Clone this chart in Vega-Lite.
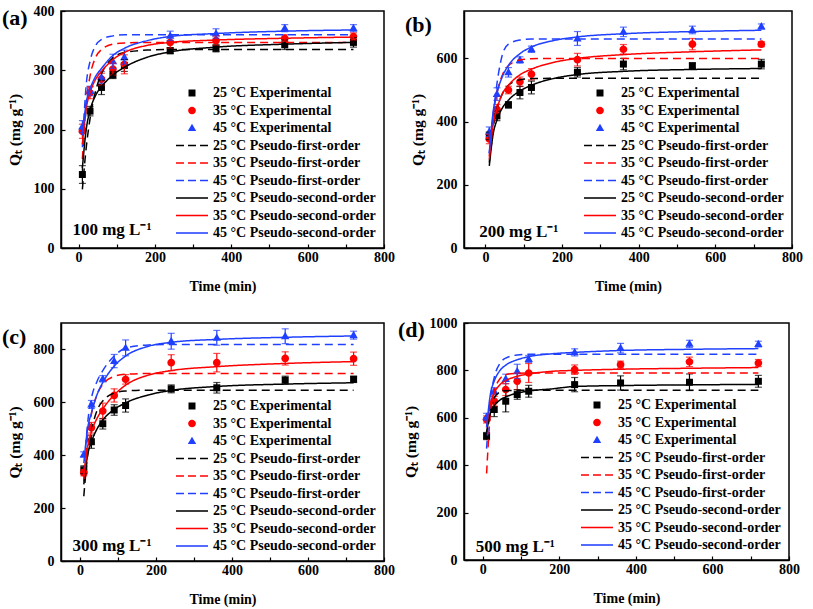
{
"$schema":"https://vega.github.io/schema/vega-lite/v6.json",
"background":"white",
"padding":{"left":1,"top":3,"right":3,"bottom":3},
"columns":2,
"align":"each",
"spacing":{"row":21,"column":1},
"resolve":{"scale":{"x":"independent","y":"independent","color":"independent","shape":"independent","strokeDash":"independent"},"legend":{"color":"independent","shape":"independent","strokeDash":"independent"}},
"datasets":{
"pts":[
{"p":"a","s":"25 °C Experimental","t":10,"q":124,"e":15},{"p":"a","s":"25 °C Experimental","t":30,"q":231,"e":8},{"p":"a","s":"25 °C Experimental","t":60,"q":271,"e":12},{"p":"a","s":"25 °C Experimental","t":90,"q":292,"e":6},{"p":"a","s":"25 °C Experimental","t":120,"q":308,"e":10},{"p":"a","s":"25 °C Experimental","t":240,"q":333,"e":5},{"p":"a","s":"25 °C Experimental","t":360,"q":337,"e":6},{"p":"a","s":"25 °C Experimental","t":540,"q":343,"e":8},{"p":"a","s":"25 °C Experimental","t":720,"q":347,"e":8},
{"p":"a","s":"35 °C Experimental","t":10,"q":197,"e":12},{"p":"a","s":"35 °C Experimental","t":30,"q":262,"e":10},{"p":"a","s":"35 °C Experimental","t":60,"q":285,"e":10},{"p":"a","s":"35 °C Experimental","t":90,"q":302,"e":10},{"p":"a","s":"35 °C Experimental","t":120,"q":310,"e":16},{"p":"a","s":"35 °C Experimental","t":240,"q":347,"e":10},{"p":"a","s":"35 °C Experimental","t":360,"q":350,"e":8},{"p":"a","s":"35 °C Experimental","t":540,"q":354,"e":6},{"p":"a","s":"35 °C Experimental","t":720,"q":357,"e":6},
{"p":"a","s":"45 °C Experimental","t":10,"q":205,"e":10},{"p":"a","s":"45 °C Experimental","t":30,"q":265,"e":8},{"p":"a","s":"45 °C Experimental","t":60,"q":288,"e":10},{"p":"a","s":"45 °C Experimental","t":90,"q":315,"e":12},{"p":"a","s":"45 °C Experimental","t":120,"q":322,"e":12},{"p":"a","s":"45 °C Experimental","t":240,"q":358,"e":8},{"p":"a","s":"45 °C Experimental","t":360,"q":362,"e":8},{"p":"a","s":"45 °C Experimental","t":540,"q":371,"e":6},{"p":"a","s":"45 °C Experimental","t":720,"q":371,"e":6},
{"p":"b","s":"25 °C Experimental","t":10,"q":355,"e":12},{"p":"b","s":"25 °C Experimental","t":30,"q":418,"e":15},{"p":"b","s":"25 °C Experimental","t":60,"q":453,"e":10},{"p":"b","s":"25 °C Experimental","t":90,"q":492,"e":20},{"p":"b","s":"25 °C Experimental","t":120,"q":508,"e":20},{"p":"b","s":"25 °C Experimental","t":240,"q":556,"e":15},{"p":"b","s":"25 °C Experimental","t":360,"q":582,"e":18},{"p":"b","s":"25 °C Experimental","t":540,"q":577,"e":8},{"p":"b","s":"25 °C Experimental","t":720,"q":582,"e":15},
{"p":"b","s":"35 °C Experimental","t":10,"q":345,"e":15},{"p":"b","s":"35 °C Experimental","t":30,"q":439,"e":15},{"p":"b","s":"35 °C Experimental","t":60,"q":500,"e":12},{"p":"b","s":"35 °C Experimental","t":90,"q":526,"e":15},{"p":"b","s":"35 °C Experimental","t":120,"q":550,"e":18},{"p":"b","s":"35 °C Experimental","t":240,"q":596,"e":20},{"p":"b","s":"35 °C Experimental","t":360,"q":629,"e":15},{"p":"b","s":"35 °C Experimental","t":540,"q":645,"e":18},{"p":"b","s":"35 °C Experimental","t":720,"q":645,"e":8},
{"p":"b","s":"45 °C Experimental","t":10,"q":368,"e":15},{"p":"b","s":"45 °C Experimental","t":30,"q":487,"e":20},{"p":"b","s":"45 °C Experimental","t":60,"q":556,"e":15},{"p":"b","s":"45 °C Experimental","t":90,"q":595,"e":10},{"p":"b","s":"45 °C Experimental","t":120,"q":629,"e":10},{"p":"b","s":"45 °C Experimental","t":240,"q":663,"e":22},{"p":"b","s":"45 °C Experimental","t":360,"q":684,"e":15},{"p":"b","s":"45 °C Experimental","t":540,"q":690,"e":12},{"p":"b","s":"45 °C Experimental","t":720,"q":701,"e":8},
{"p":"c","s":"25 °C Experimental","t":10,"q":345,"e":15},{"p":"c","s":"25 °C Experimental","t":30,"q":451,"e":25},{"p":"c","s":"25 °C Experimental","t":60,"q":519,"e":20},{"p":"c","s":"25 °C Experimental","t":90,"q":571,"e":20},{"p":"c","s":"25 °C Experimental","t":120,"q":588,"e":25},{"p":"c","s":"25 °C Experimental","t":240,"q":651,"e":15},{"p":"c","s":"25 °C Experimental","t":360,"q":655,"e":20},{"p":"c","s":"25 °C Experimental","t":540,"q":684,"e":15},{"p":"c","s":"25 °C Experimental","t":720,"q":687,"e":12},
{"p":"c","s":"35 °C Experimental","t":10,"q":334,"e":12},{"p":"c","s":"35 °C Experimental","t":30,"q":504,"e":20},{"p":"c","s":"35 °C Experimental","t":60,"q":567,"e":30},{"p":"c","s":"35 °C Experimental","t":90,"q":626,"e":25},{"p":"c","s":"35 °C Experimental","t":120,"q":687,"e":18},{"p":"c","s":"35 °C Experimental","t":240,"q":750,"e":30},{"p":"c","s":"35 °C Experimental","t":360,"q":750,"e":35},{"p":"c","s":"35 °C Experimental","t":540,"q":766,"e":25},{"p":"c","s":"35 °C Experimental","t":720,"q":765,"e":25},
{"p":"c","s":"45 °C Experimental","t":10,"q":403,"e":10},{"p":"c","s":"45 °C Experimental","t":30,"q":592,"e":15},{"p":"c","s":"45 °C Experimental","t":60,"q":689,"e":12},{"p":"c","s":"45 °C Experimental","t":90,"q":756,"e":25},{"p":"c","s":"45 °C Experimental","t":120,"q":806,"e":30},{"p":"c","s":"45 °C Experimental","t":240,"q":831,"e":30},{"p":"c","s":"45 °C Experimental","t":360,"q":844,"e":28},{"p":"c","s":"45 °C Experimental","t":540,"q":850,"e":28},{"p":"c","s":"45 °C Experimental","t":720,"q":854,"e":15},
{"p":"d","s":"25 °C Experimental","t":10,"q":523,"e":15},{"p":"d","s":"25 °C Experimental","t":30,"q":635,"e":30},{"p":"d","s":"25 °C Experimental","t":60,"q":670,"e":45},{"p":"d","s":"25 °C Experimental","t":90,"q":698,"e":20},{"p":"d","s":"25 °C Experimental","t":120,"q":712,"e":25},{"p":"d","s":"25 °C Experimental","t":240,"q":740,"e":30},{"p":"d","s":"25 °C Experimental","t":360,"q":747,"e":30},{"p":"d","s":"25 °C Experimental","t":540,"q":750,"e":35},{"p":"d","s":"25 °C Experimental","t":720,"q":754,"e":25},
{"p":"d","s":"35 °C Experimental","t":10,"q":593,"e":15},{"p":"d","s":"35 °C Experimental","t":30,"q":670,"e":20},{"p":"d","s":"35 °C Experimental","t":60,"q":719,"e":25},{"p":"d","s":"35 °C Experimental","t":90,"q":754,"e":35},{"p":"d","s":"35 °C Experimental","t":120,"q":789,"e":40},{"p":"d","s":"35 °C Experimental","t":240,"q":803,"e":20},{"p":"d","s":"35 °C Experimental","t":360,"q":824,"e":15},{"p":"d","s":"35 °C Experimental","t":540,"q":836,"e":20},{"p":"d","s":"35 °C Experimental","t":720,"q":831,"e":15},
{"p":"d","s":"45 °C Experimental","t":10,"q":604,"e":15},{"p":"d","s":"45 °C Experimental","t":30,"q":712,"e":15},{"p":"d","s":"45 °C Experimental","t":60,"q":764,"e":20},{"p":"d","s":"45 °C Experimental","t":90,"q":796,"e":30},{"p":"d","s":"45 °C Experimental","t":120,"q":848,"e":15},{"p":"d","s":"45 °C Experimental","t":240,"q":876,"e":15},{"p":"d","s":"45 °C Experimental","t":360,"q":894,"e":20},{"p":"d","s":"45 °C Experimental","t":540,"q":912,"e":15},{"p":"d","s":"45 °C Experimental","t":720,"q":911,"e":12}
],
"fit":[
{"p":"a","s":"25 °C Pseudo-first-order","t":10,"q":99},{"p":"a","s":"25 °C Pseudo-first-order","t":20,"q":169},{"p":"a","s":"25 °C Pseudo-first-order","t":30,"q":218},{"p":"a","s":"25 °C Pseudo-first-order","t":45,"q":266},{"p":"a","s":"25 °C Pseudo-first-order","t":60,"q":294},{"p":"a","s":"25 °C Pseudo-first-order","t":90,"q":321},{"p":"a","s":"25 °C Pseudo-first-order","t":120,"q":330},{"p":"a","s":"25 °C Pseudo-first-order","t":180,"q":334},{"p":"a","s":"25 °C Pseudo-first-order","t":240,"q":335},{"p":"a","s":"25 °C Pseudo-first-order","t":360,"q":335},{"p":"a","s":"25 °C Pseudo-first-order","t":540,"q":335},{"p":"a","s":"25 °C Pseudo-first-order","t":720,"q":335},
{"p":"a","s":"35 °C Pseudo-first-order","t":10,"q":150},{"p":"a","s":"35 °C Pseudo-first-order","t":20,"q":245},{"p":"a","s":"35 °C Pseudo-first-order","t":30,"q":290},{"p":"a","s":"35 °C Pseudo-first-order","t":45,"q":322},{"p":"a","s":"35 °C Pseudo-first-order","t":60,"q":335},{"p":"a","s":"35 °C Pseudo-first-order","t":90,"q":344},{"p":"a","s":"35 °C Pseudo-first-order","t":120,"q":346},{"p":"a","s":"35 °C Pseudo-first-order","t":180,"q":347},{"p":"a","s":"35 °C Pseudo-first-order","t":240,"q":347},{"p":"a","s":"35 °C Pseudo-first-order","t":360,"q":347},{"p":"a","s":"35 °C Pseudo-first-order","t":540,"q":347},{"p":"a","s":"35 °C Pseudo-first-order","t":720,"q":347},
{"p":"a","s":"45 °C Pseudo-first-order","t":10,"q":170},{"p":"a","s":"45 °C Pseudo-first-order","t":20,"q":275},{"p":"a","s":"45 °C Pseudo-first-order","t":30,"q":315},{"p":"a","s":"45 °C Pseudo-first-order","t":45,"q":342},{"p":"a","s":"45 °C Pseudo-first-order","t":60,"q":352},{"p":"a","s":"45 °C Pseudo-first-order","t":90,"q":358},{"p":"a","s":"45 °C Pseudo-first-order","t":120,"q":360},{"p":"a","s":"45 °C Pseudo-first-order","t":180,"q":360},{"p":"a","s":"45 °C Pseudo-first-order","t":240,"q":360},{"p":"a","s":"45 °C Pseudo-first-order","t":360,"q":360},{"p":"a","s":"45 °C Pseudo-first-order","t":540,"q":360},{"p":"a","s":"45 °C Pseudo-first-order","t":720,"q":360},
{"p":"a","s":"25 °C Pseudo-second-order","t":10,"q":135},{"p":"a","s":"25 °C Pseudo-second-order","t":20,"q":200},{"p":"a","s":"25 °C Pseudo-second-order","t":30,"q":232},{"p":"a","s":"25 °C Pseudo-second-order","t":45,"q":258},{"p":"a","s":"25 °C Pseudo-second-order","t":60,"q":272},{"p":"a","s":"25 °C Pseudo-second-order","t":90,"q":292},{"p":"a","s":"25 °C Pseudo-second-order","t":120,"q":305},{"p":"a","s":"25 °C Pseudo-second-order","t":180,"q":322},{"p":"a","s":"25 °C Pseudo-second-order","t":240,"q":331},{"p":"a","s":"25 °C Pseudo-second-order","t":360,"q":339},{"p":"a","s":"25 °C Pseudo-second-order","t":540,"q":344},{"p":"a","s":"25 °C Pseudo-second-order","t":720,"q":347},
{"p":"a","s":"35 °C Pseudo-second-order","t":10,"q":175},{"p":"a","s":"35 °C Pseudo-second-order","t":20,"q":235},{"p":"a","s":"35 °C Pseudo-second-order","t":30,"q":262},{"p":"a","s":"35 °C Pseudo-second-order","t":45,"q":285},{"p":"a","s":"35 °C Pseudo-second-order","t":60,"q":298},{"p":"a","s":"35 °C Pseudo-second-order","t":90,"q":318},{"p":"a","s":"35 °C Pseudo-second-order","t":120,"q":330},{"p":"a","s":"35 °C Pseudo-second-order","t":180,"q":342},{"p":"a","s":"35 °C Pseudo-second-order","t":240,"q":347},{"p":"a","s":"35 °C Pseudo-second-order","t":360,"q":351},{"p":"a","s":"35 °C Pseudo-second-order","t":540,"q":354},{"p":"a","s":"35 °C Pseudo-second-order","t":720,"q":356},
{"p":"a","s":"45 °C Pseudo-second-order","t":10,"q":190},{"p":"a","s":"45 °C Pseudo-second-order","t":20,"q":245},{"p":"a","s":"45 °C Pseudo-second-order","t":30,"q":268},{"p":"a","s":"45 °C Pseudo-second-order","t":45,"q":290},{"p":"a","s":"45 °C Pseudo-second-order","t":60,"q":303},{"p":"a","s":"45 °C Pseudo-second-order","t":90,"q":325},{"p":"a","s":"45 °C Pseudo-second-order","t":120,"q":337},{"p":"a","s":"45 °C Pseudo-second-order","t":180,"q":350},{"p":"a","s":"45 °C Pseudo-second-order","t":240,"q":357},{"p":"a","s":"45 °C Pseudo-second-order","t":360,"q":362},{"p":"a","s":"45 °C Pseudo-second-order","t":540,"q":366},{"p":"a","s":"45 °C Pseudo-second-order","t":720,"q":368},
{"p":"b","s":"25 °C Pseudo-first-order","t":10,"q":270},{"p":"b","s":"25 °C Pseudo-first-order","t":20,"q":380},{"p":"b","s":"25 °C Pseudo-first-order","t":30,"q":440},{"p":"b","s":"25 °C Pseudo-first-order","t":45,"q":490},{"p":"b","s":"25 °C Pseudo-first-order","t":60,"q":515},{"p":"b","s":"25 °C Pseudo-first-order","t":90,"q":532},{"p":"b","s":"25 °C Pseudo-first-order","t":120,"q":536},{"p":"b","s":"25 °C Pseudo-first-order","t":180,"q":537},{"p":"b","s":"25 °C Pseudo-first-order","t":240,"q":537},{"p":"b","s":"25 °C Pseudo-first-order","t":360,"q":537},{"p":"b","s":"25 °C Pseudo-first-order","t":540,"q":537},{"p":"b","s":"25 °C Pseudo-first-order","t":720,"q":537},
{"p":"b","s":"35 °C Pseudo-first-order","t":10,"q":290},{"p":"b","s":"35 °C Pseudo-first-order","t":20,"q":420},{"p":"b","s":"35 °C Pseudo-first-order","t":30,"q":490},{"p":"b","s":"35 °C Pseudo-first-order","t":45,"q":550},{"p":"b","s":"35 °C Pseudo-first-order","t":60,"q":577},{"p":"b","s":"35 °C Pseudo-first-order","t":90,"q":595},{"p":"b","s":"35 °C Pseudo-first-order","t":120,"q":599},{"p":"b","s":"35 °C Pseudo-first-order","t":180,"q":600},{"p":"b","s":"35 °C Pseudo-first-order","t":240,"q":600},{"p":"b","s":"35 °C Pseudo-first-order","t":360,"q":600},{"p":"b","s":"35 °C Pseudo-first-order","t":540,"q":600},{"p":"b","s":"35 °C Pseudo-first-order","t":720,"q":600},
{"p":"b","s":"45 °C Pseudo-first-order","t":10,"q":300},{"p":"b","s":"45 °C Pseudo-first-order","t":20,"q":420},{"p":"b","s":"45 °C Pseudo-first-order","t":30,"q":520},{"p":"b","s":"45 °C Pseudo-first-order","t":45,"q":615},{"p":"b","s":"45 °C Pseudo-first-order","t":60,"q":645},{"p":"b","s":"45 °C Pseudo-first-order","t":90,"q":658},{"p":"b","s":"45 °C Pseudo-first-order","t":120,"q":661},{"p":"b","s":"45 °C Pseudo-first-order","t":180,"q":661},{"p":"b","s":"45 °C Pseudo-first-order","t":240,"q":661},{"p":"b","s":"45 °C Pseudo-first-order","t":360,"q":661},{"p":"b","s":"45 °C Pseudo-first-order","t":540,"q":661},{"p":"b","s":"45 °C Pseudo-first-order","t":720,"q":661},
{"p":"b","s":"25 °C Pseudo-second-order","t":10,"q":260},{"p":"b","s":"25 °C Pseudo-second-order","t":20,"q":360},{"p":"b","s":"25 °C Pseudo-second-order","t":30,"q":405},{"p":"b","s":"25 °C Pseudo-second-order","t":45,"q":445},{"p":"b","s":"25 °C Pseudo-second-order","t":60,"q":468},{"p":"b","s":"25 °C Pseudo-second-order","t":90,"q":497},{"p":"b","s":"25 °C Pseudo-second-order","t":120,"q":515},{"p":"b","s":"25 °C Pseudo-second-order","t":180,"q":537},{"p":"b","s":"25 °C Pseudo-second-order","t":240,"q":549},{"p":"b","s":"25 °C Pseudo-second-order","t":360,"q":559},{"p":"b","s":"25 °C Pseudo-second-order","t":540,"q":565},{"p":"b","s":"25 °C Pseudo-second-order","t":720,"q":568},
{"p":"b","s":"35 °C Pseudo-second-order","t":10,"q":280},{"p":"b","s":"35 °C Pseudo-second-order","t":20,"q":390},{"p":"b","s":"35 °C Pseudo-second-order","t":30,"q":440},{"p":"b","s":"35 °C Pseudo-second-order","t":45,"q":490},{"p":"b","s":"35 °C Pseudo-second-order","t":60,"q":515},{"p":"b","s":"35 °C Pseudo-second-order","t":90,"q":548},{"p":"b","s":"35 °C Pseudo-second-order","t":120,"q":566},{"p":"b","s":"35 °C Pseudo-second-order","t":180,"q":588},{"p":"b","s":"35 °C Pseudo-second-order","t":240,"q":600},{"p":"b","s":"35 °C Pseudo-second-order","t":360,"q":612},{"p":"b","s":"35 °C Pseudo-second-order","t":540,"q":621},{"p":"b","s":"35 °C Pseudo-second-order","t":720,"q":627},
{"p":"b","s":"45 °C Pseudo-second-order","t":10,"q":300},{"p":"b","s":"45 °C Pseudo-second-order","t":20,"q":430},{"p":"b","s":"45 °C Pseudo-second-order","t":30,"q":490},{"p":"b","s":"45 °C Pseudo-second-order","t":45,"q":545},{"p":"b","s":"45 °C Pseudo-second-order","t":60,"q":578},{"p":"b","s":"45 °C Pseudo-second-order","t":90,"q":615},{"p":"b","s":"45 °C Pseudo-second-order","t":120,"q":636},{"p":"b","s":"45 °C Pseudo-second-order","t":180,"q":657},{"p":"b","s":"45 °C Pseudo-second-order","t":240,"q":668},{"p":"b","s":"45 °C Pseudo-second-order","t":360,"q":678},{"p":"b","s":"45 °C Pseudo-second-order","t":540,"q":685},{"p":"b","s":"45 °C Pseudo-second-order","t":720,"q":689},
{"p":"c","s":"25 °C Pseudo-first-order","t":10,"q":245},{"p":"c","s":"25 °C Pseudo-first-order","t":20,"q":400},{"p":"c","s":"25 °C Pseudo-first-order","t":30,"q":490},{"p":"c","s":"25 °C Pseudo-first-order","t":45,"q":570},{"p":"c","s":"25 °C Pseudo-first-order","t":60,"q":605},{"p":"c","s":"25 °C Pseudo-first-order","t":90,"q":635},{"p":"c","s":"25 °C Pseudo-first-order","t":120,"q":643},{"p":"c","s":"25 °C Pseudo-first-order","t":180,"q":646},{"p":"c","s":"25 °C Pseudo-first-order","t":240,"q":646},{"p":"c","s":"25 °C Pseudo-first-order","t":360,"q":646},{"p":"c","s":"25 °C Pseudo-first-order","t":540,"q":646},{"p":"c","s":"25 °C Pseudo-first-order","t":720,"q":646},
{"p":"c","s":"35 °C Pseudo-first-order","t":10,"q":300},{"p":"c","s":"35 °C Pseudo-first-order","t":20,"q":470},{"p":"c","s":"35 °C Pseudo-first-order","t":30,"q":555},{"p":"c","s":"35 °C Pseudo-first-order","t":45,"q":630},{"p":"c","s":"35 °C Pseudo-first-order","t":60,"q":668},{"p":"c","s":"35 °C Pseudo-first-order","t":90,"q":698},{"p":"c","s":"35 °C Pseudo-first-order","t":120,"q":706},{"p":"c","s":"35 °C Pseudo-first-order","t":180,"q":709},{"p":"c","s":"35 °C Pseudo-first-order","t":240,"q":709},{"p":"c","s":"35 °C Pseudo-first-order","t":360,"q":709},{"p":"c","s":"35 °C Pseudo-first-order","t":540,"q":709},{"p":"c","s":"35 °C Pseudo-first-order","t":720,"q":709},
{"p":"c","s":"45 °C Pseudo-first-order","t":10,"q":330},{"p":"c","s":"45 °C Pseudo-first-order","t":20,"q":520},{"p":"c","s":"45 °C Pseudo-first-order","t":30,"q":615},{"p":"c","s":"45 °C Pseudo-first-order","t":45,"q":680},{"p":"c","s":"45 °C Pseudo-first-order","t":60,"q":720},{"p":"c","s":"45 °C Pseudo-first-order","t":90,"q":775},{"p":"c","s":"45 °C Pseudo-first-order","t":120,"q":805},{"p":"c","s":"45 °C Pseudo-first-order","t":180,"q":817},{"p":"c","s":"45 °C Pseudo-first-order","t":240,"q":819},{"p":"c","s":"45 °C Pseudo-first-order","t":360,"q":819},{"p":"c","s":"45 °C Pseudo-first-order","t":540,"q":819},{"p":"c","s":"45 °C Pseudo-first-order","t":720,"q":819},
{"p":"c","s":"25 °C Pseudo-second-order","t":10,"q":290},{"p":"c","s":"25 °C Pseudo-second-order","t":20,"q":400},{"p":"c","s":"25 °C Pseudo-second-order","t":30,"q":450},{"p":"c","s":"25 °C Pseudo-second-order","t":45,"q":500},{"p":"c","s":"25 °C Pseudo-second-order","t":60,"q":533},{"p":"c","s":"25 °C Pseudo-second-order","t":90,"q":573},{"p":"c","s":"25 °C Pseudo-second-order","t":120,"q":598},{"p":"c","s":"25 °C Pseudo-second-order","t":180,"q":628},{"p":"c","s":"25 °C Pseudo-second-order","t":240,"q":645},{"p":"c","s":"25 °C Pseudo-second-order","t":360,"q":660},{"p":"c","s":"25 °C Pseudo-second-order","t":540,"q":669},{"p":"c","s":"25 °C Pseudo-second-order","t":720,"q":674},
{"p":"c","s":"35 °C Pseudo-second-order","t":10,"q":310},{"p":"c","s":"35 °C Pseudo-second-order","t":20,"q":430},{"p":"c","s":"35 °C Pseudo-second-order","t":30,"q":488},{"p":"c","s":"35 °C Pseudo-second-order","t":45,"q":540},{"p":"c","s":"35 °C Pseudo-second-order","t":60,"q":575},{"p":"c","s":"35 °C Pseudo-second-order","t":90,"q":628},{"p":"c","s":"35 °C Pseudo-second-order","t":120,"q":665},{"p":"c","s":"35 °C Pseudo-second-order","t":180,"q":703},{"p":"c","s":"35 °C Pseudo-second-order","t":240,"q":720},{"p":"c","s":"35 °C Pseudo-second-order","t":360,"q":735},{"p":"c","s":"35 °C Pseudo-second-order","t":540,"q":747},{"p":"c","s":"35 °C Pseudo-second-order","t":720,"q":754},
{"p":"c","s":"45 °C Pseudo-second-order","t":10,"q":370},{"p":"c","s":"45 °C Pseudo-second-order","t":20,"q":500},{"p":"c","s":"45 °C Pseudo-second-order","t":30,"q":560},{"p":"c","s":"45 °C Pseudo-second-order","t":45,"q":630},{"p":"c","s":"45 °C Pseudo-second-order","t":60,"q":675},{"p":"c","s":"45 °C Pseudo-second-order","t":90,"q":737},{"p":"c","s":"45 °C Pseudo-second-order","t":120,"q":775},{"p":"c","s":"45 °C Pseudo-second-order","t":180,"q":812},{"p":"c","s":"45 °C Pseudo-second-order","t":240,"q":827},{"p":"c","s":"45 °C Pseudo-second-order","t":360,"q":838},{"p":"c","s":"45 °C Pseudo-second-order","t":540,"q":846},{"p":"c","s":"45 °C Pseudo-second-order","t":720,"q":851},
{"p":"d","s":"25 °C Pseudo-first-order","t":10,"q":520},{"p":"d","s":"25 °C Pseudo-first-order","t":20,"q":640},{"p":"d","s":"25 °C Pseudo-first-order","t":30,"q":685},{"p":"d","s":"25 °C Pseudo-first-order","t":45,"q":708},{"p":"d","s":"25 °C Pseudo-first-order","t":60,"q":714},{"p":"d","s":"25 °C Pseudo-first-order","t":90,"q":716},{"p":"d","s":"25 °C Pseudo-first-order","t":120,"q":716},{"p":"d","s":"25 °C Pseudo-first-order","t":180,"q":716},{"p":"d","s":"25 °C Pseudo-first-order","t":240,"q":716},{"p":"d","s":"25 °C Pseudo-first-order","t":360,"q":716},{"p":"d","s":"25 °C Pseudo-first-order","t":540,"q":716},{"p":"d","s":"25 °C Pseudo-first-order","t":720,"q":716},
{"p":"d","s":"35 °C Pseudo-first-order","t":10,"q":365},{"p":"d","s":"35 °C Pseudo-first-order","t":20,"q":620},{"p":"d","s":"35 °C Pseudo-first-order","t":30,"q":710},{"p":"d","s":"35 °C Pseudo-first-order","t":45,"q":765},{"p":"d","s":"35 °C Pseudo-first-order","t":60,"q":782},{"p":"d","s":"35 °C Pseudo-first-order","t":90,"q":788},{"p":"d","s":"35 °C Pseudo-first-order","t":120,"q":789},{"p":"d","s":"35 °C Pseudo-first-order","t":180,"q":789},{"p":"d","s":"35 °C Pseudo-first-order","t":240,"q":789},{"p":"d","s":"35 °C Pseudo-first-order","t":360,"q":789},{"p":"d","s":"35 °C Pseudo-first-order","t":540,"q":789},{"p":"d","s":"35 °C Pseudo-first-order","t":720,"q":789},
{"p":"d","s":"45 °C Pseudo-first-order","t":10,"q":470},{"p":"d","s":"45 °C Pseudo-first-order","t":20,"q":680},{"p":"d","s":"45 °C Pseudo-first-order","t":30,"q":770},{"p":"d","s":"45 °C Pseudo-first-order","t":45,"q":830},{"p":"d","s":"45 °C Pseudo-first-order","t":60,"q":852},{"p":"d","s":"45 °C Pseudo-first-order","t":90,"q":865},{"p":"d","s":"45 °C Pseudo-first-order","t":120,"q":868},{"p":"d","s":"45 °C Pseudo-first-order","t":180,"q":868},{"p":"d","s":"45 °C Pseudo-first-order","t":240,"q":868},{"p":"d","s":"45 °C Pseudo-first-order","t":360,"q":868},{"p":"d","s":"45 °C Pseudo-first-order","t":540,"q":868},{"p":"d","s":"45 °C Pseudo-first-order","t":720,"q":868},
{"p":"d","s":"25 °C Pseudo-second-order","t":10,"q":540},{"p":"d","s":"25 °C Pseudo-second-order","t":20,"q":620},{"p":"d","s":"25 °C Pseudo-second-order","t":30,"q":650},{"p":"d","s":"25 °C Pseudo-second-order","t":45,"q":675},{"p":"d","s":"25 °C Pseudo-second-order","t":60,"q":688},{"p":"d","s":"25 °C Pseudo-second-order","t":90,"q":704},{"p":"d","s":"25 °C Pseudo-second-order","t":120,"q":713},{"p":"d","s":"25 °C Pseudo-second-order","t":180,"q":722},{"p":"d","s":"25 °C Pseudo-second-order","t":240,"q":732},{"p":"d","s":"25 °C Pseudo-second-order","t":360,"q":736},{"p":"d","s":"25 °C Pseudo-second-order","t":540,"q":739},{"p":"d","s":"25 °C Pseudo-second-order","t":720,"q":741},
{"p":"d","s":"35 °C Pseudo-second-order","t":10,"q":560},{"p":"d","s":"35 °C Pseudo-second-order","t":20,"q":660},{"p":"d","s":"35 °C Pseudo-second-order","t":30,"q":705},{"p":"d","s":"35 °C Pseudo-second-order","t":45,"q":740},{"p":"d","s":"35 °C Pseudo-second-order","t":60,"q":757},{"p":"d","s":"35 °C Pseudo-second-order","t":90,"q":775},{"p":"d","s":"35 °C Pseudo-second-order","t":120,"q":785},{"p":"d","s":"35 °C Pseudo-second-order","t":180,"q":796},{"p":"d","s":"35 °C Pseudo-second-order","t":240,"q":800},{"p":"d","s":"35 °C Pseudo-second-order","t":360,"q":805},{"p":"d","s":"35 °C Pseudo-second-order","t":540,"q":809},{"p":"d","s":"35 °C Pseudo-second-order","t":720,"q":812},
{"p":"d","s":"45 °C Pseudo-second-order","t":10,"q":560},{"p":"d","s":"45 °C Pseudo-second-order","t":20,"q":700},{"p":"d","s":"45 °C Pseudo-second-order","t":30,"q":755},{"p":"d","s":"45 °C Pseudo-second-order","t":45,"q":800},{"p":"d","s":"45 °C Pseudo-second-order","t":60,"q":822},{"p":"d","s":"45 °C Pseudo-second-order","t":90,"q":845},{"p":"d","s":"45 °C Pseudo-second-order","t":120,"q":858},{"p":"d","s":"45 °C Pseudo-second-order","t":180,"q":870},{"p":"d","s":"45 °C Pseudo-second-order","t":240,"q":876},{"p":"d","s":"45 °C Pseudo-second-order","t":360,"q":884},{"p":"d","s":"45 °C Pseudo-second-order","t":540,"q":889},{"p":"d","s":"45 °C Pseudo-second-order","t":720,"q":892}
]
},
"concat":[
{"width":323,"height":237,"title":{"text":"(a)","dx":-59},
 "layer":[
  {"data":{"name":"pts"},"transform":[{"filter":"datum.p == 'a'"}],"mark":{"type":"point","filled":true,"size":49,"opacity":1,"strokeWidth":0},"encoding":{
   "x":{"field":"t","type":"quantitative","title":"Time (min)","scale":{"domain":[-46,800],"nice":false,"zero":false},"axis":{"values":[0,100,200,300,400,500,600,700,800],"format":"d","labelExpr":"datum.value % 200 == 0 ? datum.label : ''"}},
   "y":{"field":"q","type":"quantitative","title":"Qₜ (mg g⁻¹)","scale":{"domain":[0,400],"nice":false},"axis":{"values":[0,50,100,150,200,250,300,350,400],"format":"d","labelExpr":"datum.value % 100 == 0 ? datum.label : ''"}},
   "color":{"field":"s","type":"nominal","legend":{"title":null},"scale":{"domain":["25 °C Experimental","35 °C Experimental","45 °C Experimental","25 °C Pseudo-first-order","35 °C Pseudo-first-order","45 °C Pseudo-first-order","25 °C Pseudo-second-order","35 °C Pseudo-second-order","45 °C Pseudo-second-order"],"range":["#000000","#ff0000","#2040ff","#000000","#ff0000","#2040ff","#000000","#ff0000","#2040ff"]}},"shape":{"field":"s","type":"nominal","legend":{"title":null},"scale":{"domain":["25 °C Experimental","35 °C Experimental","45 °C Experimental","25 °C Pseudo-first-order","35 °C Pseudo-first-order","45 °C Pseudo-first-order","25 °C Pseudo-second-order","35 °C Pseudo-second-order","45 °C Pseudo-second-order"],"range":["M-1,-1H1V1H-1Z","M1.1,0A1.1,1.1,0,1,1,-1.1,0A1.1,1.1,0,1,1,1.1,0Z","M0,-1.25L1.2,0.85L-1.2,0.85Z","M-4.57,-0.22H-2.29V0.22H-4.57ZM-1.14,-0.22H1.14V0.22H-1.14ZM2.29,-0.22H4.57V0.22H2.29Z","M-4.57,-0.22H-2.29V0.22H-4.57ZM-1.14,-0.22H1.14V0.22H-1.14ZM2.29,-0.22H4.57V0.22H2.29Z","M-4.57,-0.22H-2.29V0.22H-4.57ZM-1.14,-0.22H1.14V0.22H-1.14ZM2.29,-0.22H4.57V0.22H2.29Z","M-4.57,-0.22H4.57V0.22H-4.57Z","M-4.57,-0.22H4.57V0.22H-4.57Z","M-4.57,-0.22H4.57V0.22H-4.57Z"]}}}},
  {"data":{"name":"pts"},"transform":[{"filter":"datum.p == 'a'"}],"mark":{"type":"errorbar","ticks":{"size":7},"thickness":1.2},"encoding":{"x":{"field":"t","type":"quantitative","title":"Time (min)","scale":{"domain":[-46,800],"nice":false,"zero":false}},"y":{"field":"q","type":"quantitative","title":"Qₜ (mg g⁻¹)","scale":{"domain":[0,400],"nice":false}},"yError":{"field":"e"},"color":{"field":"s","type":"nominal","legend":{"title":null}}}},
  {"data":{"name":"fit"},"transform":[{"filter":"datum.p == 'a'"}],"mark":{"type":"line","strokeWidth":1.5,"interpolate":"monotone"},"encoding":{"x":{"field":"t","type":"quantitative","title":"Time (min)","scale":{"domain":[-46,800],"nice":false,"zero":false}},"y":{"field":"q","type":"quantitative","title":"Qₜ (mg g⁻¹)","scale":{"domain":[0,400],"nice":false}},"color":{"field":"s","type":"nominal","legend":{"title":null}},"strokeDash":{"field":"s","type":"nominal","legend":{"title":null},"scale":{"domain":["25 °C Experimental","35 °C Experimental","45 °C Experimental","25 °C Pseudo-first-order","35 °C Pseudo-first-order","45 °C Pseudo-first-order","25 °C Pseudo-second-order","35 °C Pseudo-second-order","45 °C Pseudo-second-order"],"range":[[1,0],[1,0],[1,0],[8,5],[8,5],[8,5],[1,0],[1,0],[1,0]]}}}},
  {"data":{"values":[{"label":"100 mg L⁻¹"}]},"mark":{"type":"text","align":"left","baseline":"middle","font":"Liberation Serif","fontSize":17,"fontWeight":"bold","color":"#000"},"encoding":{"x":{"datum":-16,"type":"quantitative"},"y":{"datum":31,"type":"quantitative"},"text":{"field":"label"}}}
 ]},
{"width":328,"height":237,"title":{"text":"(b)","dx":-59},
 "layer":[
  {"data":{"name":"pts"},"transform":[{"filter":"datum.p == 'b'"}],"mark":{"type":"point","filled":true,"size":49,"opacity":1,"strokeWidth":0},"encoding":{
   "x":{"field":"t","type":"quantitative","title":"Time (min)","scale":{"domain":[-56,800],"nice":false,"zero":false},"axis":{"values":[0,100,200,300,400,500,600,700,800],"format":"d","labelExpr":"datum.value % 200 == 0 ? datum.label : ''"}},
   "y":{"field":"q","type":"quantitative","title":"Qₜ (mg g⁻¹)","scale":{"domain":[0,750],"nice":false},"axis":{"values":[0,100,200,300,400,500,600,700],"format":"d","labelExpr":"datum.value % 200 == 0 ? datum.label : ''"}},
   "color":{"field":"s","type":"nominal","legend":{"title":null},"scale":{"domain":["25 °C Experimental","35 °C Experimental","45 °C Experimental","25 °C Pseudo-first-order","35 °C Pseudo-first-order","45 °C Pseudo-first-order","25 °C Pseudo-second-order","35 °C Pseudo-second-order","45 °C Pseudo-second-order"],"range":["#000000","#ff0000","#2040ff","#000000","#ff0000","#2040ff","#000000","#ff0000","#2040ff"]}},"shape":{"field":"s","type":"nominal","legend":{"title":null},"scale":{"domain":["25 °C Experimental","35 °C Experimental","45 °C Experimental","25 °C Pseudo-first-order","35 °C Pseudo-first-order","45 °C Pseudo-first-order","25 °C Pseudo-second-order","35 °C Pseudo-second-order","45 °C Pseudo-second-order"],"range":["M-1,-1H1V1H-1Z","M1.1,0A1.1,1.1,0,1,1,-1.1,0A1.1,1.1,0,1,1,1.1,0Z","M0,-1.25L1.2,0.85L-1.2,0.85Z","M-4.57,-0.22H-2.29V0.22H-4.57ZM-1.14,-0.22H1.14V0.22H-1.14ZM2.29,-0.22H4.57V0.22H2.29Z","M-4.57,-0.22H-2.29V0.22H-4.57ZM-1.14,-0.22H1.14V0.22H-1.14ZM2.29,-0.22H4.57V0.22H2.29Z","M-4.57,-0.22H-2.29V0.22H-4.57ZM-1.14,-0.22H1.14V0.22H-1.14ZM2.29,-0.22H4.57V0.22H2.29Z","M-4.57,-0.22H4.57V0.22H-4.57Z","M-4.57,-0.22H4.57V0.22H-4.57Z","M-4.57,-0.22H4.57V0.22H-4.57Z"]}}}},
  {"data":{"name":"pts"},"transform":[{"filter":"datum.p == 'b'"}],"mark":{"type":"errorbar","ticks":{"size":7},"thickness":1.2},"encoding":{"x":{"field":"t","type":"quantitative","title":"Time (min)","scale":{"domain":[-56,800],"nice":false,"zero":false}},"y":{"field":"q","type":"quantitative","title":"Qₜ (mg g⁻¹)","scale":{"domain":[0,750],"nice":false}},"yError":{"field":"e"},"color":{"field":"s","type":"nominal","legend":{"title":null}}}},
  {"data":{"name":"fit"},"transform":[{"filter":"datum.p == 'b'"}],"mark":{"type":"line","strokeWidth":1.5,"interpolate":"monotone"},"encoding":{"x":{"field":"t","type":"quantitative","title":"Time (min)","scale":{"domain":[-56,800],"nice":false,"zero":false}},"y":{"field":"q","type":"quantitative","title":"Qₜ (mg g⁻¹)","scale":{"domain":[0,750],"nice":false}},"color":{"field":"s","type":"nominal","legend":{"title":null}},"strokeDash":{"field":"s","type":"nominal","legend":{"title":null},"scale":{"domain":["25 °C Experimental","35 °C Experimental","45 °C Experimental","25 °C Pseudo-first-order","35 °C Pseudo-first-order","45 °C Pseudo-first-order","25 °C Pseudo-second-order","35 °C Pseudo-second-order","45 °C Pseudo-second-order"],"range":[[1,0],[1,0],[1,0],[8,5],[8,5],[8,5],[1,0],[1,0],[1,0]]}}}},
  {"data":{"values":[{"label":"200 mg L⁻¹"}]},"mark":{"type":"text","align":"left","baseline":"middle","font":"Liberation Serif","fontSize":17,"fontWeight":"bold","color":"#000"},"encoding":{"x":{"datum":-16,"type":"quantitative"},"y":{"datum":52,"type":"quantitative"},"text":{"field":"label"}}}
 ]},
{"width":323,"height":238,"title":{"text":"(c)","dx":-59},
 "layer":[
  {"data":{"name":"pts"},"transform":[{"filter":"datum.p == 'c'"}],"mark":{"type":"point","filled":true,"size":49,"opacity":1,"strokeWidth":0},"encoding":{
   "x":{"field":"t","type":"quantitative","title":"Time (min)","scale":{"domain":[-50,800],"nice":false,"zero":false},"axis":{"values":[0,100,200,300,400,500,600,700,800],"format":"d","labelExpr":"datum.value % 200 == 0 ? datum.label : ''"}},
   "y":{"field":"q","type":"quantitative","title":"Qₜ (mg g⁻¹)","scale":{"domain":[0,900],"nice":false},"axis":{"values":[0,100,200,300,400,500,600,700,800,900],"format":"d","labelExpr":"datum.value % 200 == 0 ? datum.label : ''"}},
   "color":{"field":"s","type":"nominal","legend":{"title":null},"scale":{"domain":["25 °C Experimental","35 °C Experimental","45 °C Experimental","25 °C Pseudo-first-order","35 °C Pseudo-first-order","45 °C Pseudo-first-order","25 °C Pseudo-second-order","35 °C Pseudo-second-order","45 °C Pseudo-second-order"],"range":["#000000","#ff0000","#2040ff","#000000","#ff0000","#2040ff","#000000","#ff0000","#2040ff"]}},"shape":{"field":"s","type":"nominal","legend":{"title":null},"scale":{"domain":["25 °C Experimental","35 °C Experimental","45 °C Experimental","25 °C Pseudo-first-order","35 °C Pseudo-first-order","45 °C Pseudo-first-order","25 °C Pseudo-second-order","35 °C Pseudo-second-order","45 °C Pseudo-second-order"],"range":["M-1,-1H1V1H-1Z","M1.1,0A1.1,1.1,0,1,1,-1.1,0A1.1,1.1,0,1,1,1.1,0Z","M0,-1.25L1.2,0.85L-1.2,0.85Z","M-4.57,-0.22H-2.29V0.22H-4.57ZM-1.14,-0.22H1.14V0.22H-1.14ZM2.29,-0.22H4.57V0.22H2.29Z","M-4.57,-0.22H-2.29V0.22H-4.57ZM-1.14,-0.22H1.14V0.22H-1.14ZM2.29,-0.22H4.57V0.22H2.29Z","M-4.57,-0.22H-2.29V0.22H-4.57ZM-1.14,-0.22H1.14V0.22H-1.14ZM2.29,-0.22H4.57V0.22H2.29Z","M-4.57,-0.22H4.57V0.22H-4.57Z","M-4.57,-0.22H4.57V0.22H-4.57Z","M-4.57,-0.22H4.57V0.22H-4.57Z"]}}}},
  {"data":{"name":"pts"},"transform":[{"filter":"datum.p == 'c'"}],"mark":{"type":"errorbar","ticks":{"size":7},"thickness":1.2},"encoding":{"x":{"field":"t","type":"quantitative","title":"Time (min)","scale":{"domain":[-50,800],"nice":false,"zero":false}},"y":{"field":"q","type":"quantitative","title":"Qₜ (mg g⁻¹)","scale":{"domain":[0,900],"nice":false}},"yError":{"field":"e"},"color":{"field":"s","type":"nominal","legend":{"title":null}}}},
  {"data":{"name":"fit"},"transform":[{"filter":"datum.p == 'c'"}],"mark":{"type":"line","strokeWidth":1.5,"interpolate":"monotone"},"encoding":{"x":{"field":"t","type":"quantitative","title":"Time (min)","scale":{"domain":[-50,800],"nice":false,"zero":false}},"y":{"field":"q","type":"quantitative","title":"Qₜ (mg g⁻¹)","scale":{"domain":[0,900],"nice":false}},"color":{"field":"s","type":"nominal","legend":{"title":null}},"strokeDash":{"field":"s","type":"nominal","legend":{"title":null},"scale":{"domain":["25 °C Experimental","35 °C Experimental","45 °C Experimental","25 °C Pseudo-first-order","35 °C Pseudo-first-order","45 °C Pseudo-first-order","25 °C Pseudo-second-order","35 °C Pseudo-second-order","45 °C Pseudo-second-order"],"range":[[1,0],[1,0],[1,0],[8,5],[8,5],[8,5],[1,0],[1,0],[1,0]]}}}},
  {"data":{"values":[{"label":"300 mg L⁻¹"}]},"mark":{"type":"text","align":"left","baseline":"middle","font":"Liberation Serif","fontSize":17,"fontWeight":"bold","color":"#000"},"encoding":{"x":{"datum":-20,"type":"quantitative"},"y":{"datum":55,"type":"quantitative"},"text":{"field":"label"}}}
 ]},
{"width":325,"height":237,"title":{"text":"(d)","dx":-66},
 "layer":[
  {"data":{"name":"pts"},"transform":[{"filter":"datum.p == 'd'"}],"mark":{"type":"point","filled":true,"size":49,"opacity":1,"strokeWidth":0},"encoding":{
   "x":{"field":"t","type":"quantitative","title":"Time (min)","scale":{"domain":[-49,800],"nice":false,"zero":false},"axis":{"values":[0,100,200,300,400,500,600,700,800],"format":"d","labelExpr":"datum.value % 200 == 0 ? datum.label : ''"}},
   "y":{"field":"q","type":"quantitative","title":"Qₜ (mg g⁻¹)","scale":{"domain":[0,1000],"nice":false},"axis":{"values":[0,100,200,300,400,500,600,700,800,900,1000],"format":"d","labelExpr":"datum.value % 200 == 0 ? datum.label : ''"}},
   "color":{"field":"s","type":"nominal","legend":{"title":null},"scale":{"domain":["25 °C Experimental","35 °C Experimental","45 °C Experimental","25 °C Pseudo-first-order","35 °C Pseudo-first-order","45 °C Pseudo-first-order","25 °C Pseudo-second-order","35 °C Pseudo-second-order","45 °C Pseudo-second-order"],"range":["#000000","#ff0000","#2040ff","#000000","#ff0000","#2040ff","#000000","#ff0000","#2040ff"]}},"shape":{"field":"s","type":"nominal","legend":{"title":null},"scale":{"domain":["25 °C Experimental","35 °C Experimental","45 °C Experimental","25 °C Pseudo-first-order","35 °C Pseudo-first-order","45 °C Pseudo-first-order","25 °C Pseudo-second-order","35 °C Pseudo-second-order","45 °C Pseudo-second-order"],"range":["M-1,-1H1V1H-1Z","M1.1,0A1.1,1.1,0,1,1,-1.1,0A1.1,1.1,0,1,1,1.1,0Z","M0,-1.25L1.2,0.85L-1.2,0.85Z","M-4.57,-0.22H-2.29V0.22H-4.57ZM-1.14,-0.22H1.14V0.22H-1.14ZM2.29,-0.22H4.57V0.22H2.29Z","M-4.57,-0.22H-2.29V0.22H-4.57ZM-1.14,-0.22H1.14V0.22H-1.14ZM2.29,-0.22H4.57V0.22H2.29Z","M-4.57,-0.22H-2.29V0.22H-4.57ZM-1.14,-0.22H1.14V0.22H-1.14ZM2.29,-0.22H4.57V0.22H2.29Z","M-4.57,-0.22H4.57V0.22H-4.57Z","M-4.57,-0.22H4.57V0.22H-4.57Z","M-4.57,-0.22H4.57V0.22H-4.57Z"]}}}},
  {"data":{"name":"pts"},"transform":[{"filter":"datum.p == 'd'"}],"mark":{"type":"errorbar","ticks":{"size":7},"thickness":1.2},"encoding":{"x":{"field":"t","type":"quantitative","title":"Time (min)","scale":{"domain":[-49,800],"nice":false,"zero":false}},"y":{"field":"q","type":"quantitative","title":"Qₜ (mg g⁻¹)","scale":{"domain":[0,1000],"nice":false}},"yError":{"field":"e"},"color":{"field":"s","type":"nominal","legend":{"title":null}}}},
  {"data":{"name":"fit"},"transform":[{"filter":"datum.p == 'd'"}],"mark":{"type":"line","strokeWidth":1.5,"interpolate":"monotone"},"encoding":{"x":{"field":"t","type":"quantitative","title":"Time (min)","scale":{"domain":[-49,800],"nice":false,"zero":false}},"y":{"field":"q","type":"quantitative","title":"Qₜ (mg g⁻¹)","scale":{"domain":[0,1000],"nice":false}},"color":{"field":"s","type":"nominal","legend":{"title":null}},"strokeDash":{"field":"s","type":"nominal","legend":{"title":null},"scale":{"domain":["25 °C Experimental","35 °C Experimental","45 °C Experimental","25 °C Pseudo-first-order","35 °C Pseudo-first-order","45 °C Pseudo-first-order","25 °C Pseudo-second-order","35 °C Pseudo-second-order","45 °C Pseudo-second-order"],"range":[[1,0],[1,0],[1,0],[8,5],[8,5],[8,5],[1,0],[1,0],[1,0]]}}}},
  {"data":{"values":[{"label":"500 mg L⁻¹"}]},"mark":{"type":"text","align":"left","baseline":"middle","font":"Liberation Serif","fontSize":17,"fontWeight":"bold","color":"#000"},"encoding":{"x":{"datum":-18,"type":"quantitative"},"y":{"datum":55,"type":"quantitative"},"text":{"field":"label"}}}
 ]}
],
"config":{
 "font":"Liberation Serif",
 "view":{"stroke":"#000000","strokeWidth":1.5},
 "axis":{"grid":false,"domainColor":"#000000","domainWidth":1.5,"tickColor":"#000000","tickWidth":1.2,"tickSize":-4,"labelFont":"Liberation Serif","labelFontWeight":"bold","labelFontSize":14,"labelColor":"#000000","labelOverlap":false,"labelFlush":false,"titleFont":"Liberation Serif","titleFontWeight":"bold","titleColor":"#000000"},
 "axisX":{"labelPadding":6,"titlePadding":15,"titleFontSize":14},
 "axisY":{"labelPadding":11,"titlePadding":11,"titleFontSize":15.5},
 "legend":{"orient":"bottom-right","offset":8,"padding":0,"labelFont":"Liberation Serif","labelFontSize":14,"labelFontWeight":"bold","labelColor":"#000000","labelLimit":400,"symbolSize":49,"symbolStrokeWidth":0,"symbolOffset":9,"labelOffset":14,"rowPadding":3.5},
 "title":{"anchor":"start","frame":"group","font":"Liberation Serif","fontSize":22,"fontWeight":"bold","color":"#000000","dy":30,"offset":0}
}
}
